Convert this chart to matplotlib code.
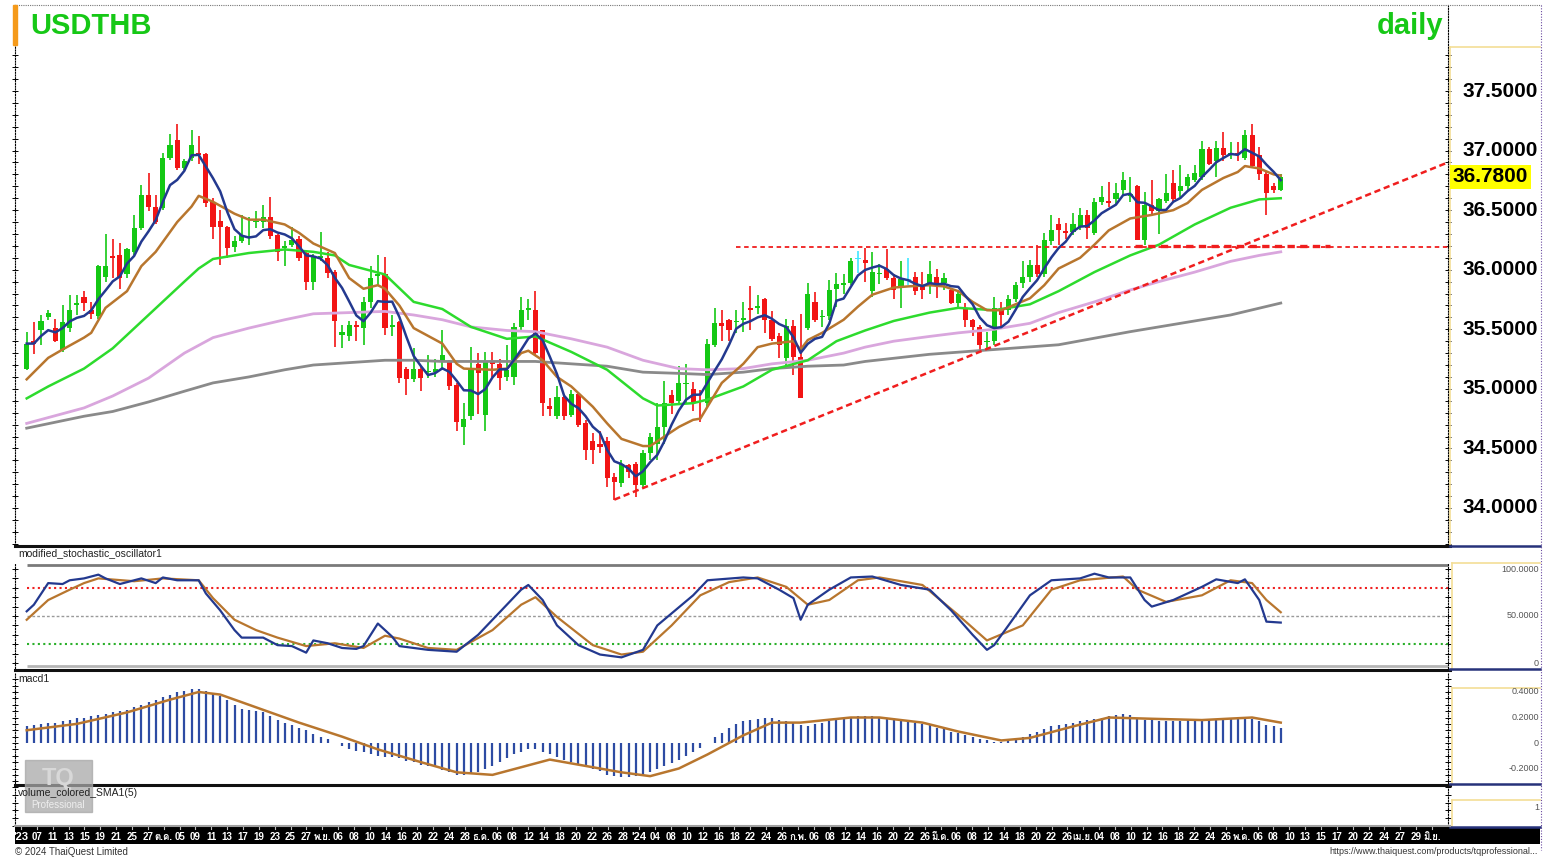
import numpy as np
import pandas as pd
import matplotlib
matplotlib.use('Agg')
import matplotlib.pyplot as plt
from matplotlib import font_manager
from matplotlib.ft2font import FT2Font
from matplotlib.lines import Line2D
from matplotlib.patches import Rectangle

# ---- daily candles (Sep 2023 - May 2024) ----
open_ = [35.17, 35.40, 35.49, 35.60, 35.51, 35.33, 35.51, 35.70, 35.77, 35.66,
         35.61, 35.94, 36.11, 36.12, 35.96, 36.15, 36.35, 36.63, 36.53, 36.52,
         36.94, 37.09, 36.85, 36.94, 36.98, 36.97, 36.57, 36.41, 36.36, 36.19,
         36.24, 36.27, 36.40, 36.40, 36.44, 36.29, 36.18, 36.21, 36.26, 36.14,
         35.90, 36.10, 36.10, 35.98, 35.45, 35.44, 35.54, 35.51, 35.73, 35.95,
         35.96, 35.52, 35.56, 35.17, 35.08, 35.17, 35.14, 35.14, 35.23, 35.23,
         35.03, 34.68, 34.77, 35.21, 34.78, 35.23, 35.21, 35.10, 35.10, 35.52,
         35.66, 35.66, 35.49, 34.86, 34.77, 34.93, 34.78, 34.96, 34.71, 34.56,
         34.54, 34.56, 34.26, 34.21, 34.36, 34.37, 34.19, 34.46, 34.54, 34.68,
         34.95, 34.90, 35.04, 35.00, 34.90, 34.88, 35.37, 35.55, 35.58, 35.56,
         35.58, 35.68, 35.68, 35.75, 35.58, 35.44, 35.26, 35.53, 35.27, 35.51,
         35.73, 35.60, 35.61, 35.84, 35.87, 35.89, 36.09, 36.08, 35.82, 35.96,
         36.01, 35.93, 35.86, 35.91, 35.94, 35.87, 35.86, 35.94, 35.89, 35.83,
         35.72, 35.68, 35.58, 35.52, 35.39, 35.40, 35.68, 35.66, 35.75, 35.89,
         35.94, 36.04, 35.96, 36.24, 36.38, 36.32, 36.32, 36.36, 36.46, 36.31,
         36.57, 36.58, 36.59, 36.67, 36.62, 36.70, 36.25, 36.54, 36.49, 36.58,
         36.73, 36.66, 36.70, 36.75, 36.78, 37.01, 36.91, 37.02, 36.97, 36.98,
         36.94, 37.13, 36.96, 36.80, 36.70, 36.67]
high_ = [35.48, 35.56, 35.62, 35.66, 35.59, 35.70, 35.79, 35.79, 35.82, 35.73,
         36.04, 36.30, 36.26, 36.22, 36.18, 36.46, 36.71, 36.81, 36.63, 36.98,
         37.14, 37.22, 36.93, 37.17, 37.12, 36.98, 36.60, 36.50, 36.37, 36.28,
         36.46, 36.44, 36.49, 36.54, 36.61, 36.30, 36.24, 36.36, 36.28, 36.15,
         36.13, 36.32, 36.15, 36.00, 35.54, 35.57, 35.57, 35.77, 36.03, 36.12,
         36.11, 35.62, 35.57, 35.18, 35.34, 35.18, 35.28, 35.25, 35.49, 35.24,
         35.05, 34.88, 35.35, 35.30, 35.31, 35.31, 35.25, 35.37, 35.55, 35.77,
         35.75, 35.82, 35.49, 34.92, 35.02, 34.96, 34.99, 34.97, 34.74, 34.63,
         34.65, 34.60, 34.29, 34.40, 34.37, 34.39, 34.49, 34.63, 34.88, 35.07,
         34.99, 35.19, 35.21, 35.06, 34.99, 35.42, 35.68, 35.66, 35.59, 35.66,
         35.73, 35.86, 35.79, 35.76, 35.65, 35.47, 35.59, 35.58, 35.63, 35.89,
         35.81, 35.66, 35.91, 35.97, 35.96, 36.10, 36.16, 36.18, 36.15, 36.05,
         36.17, 35.96, 36.07, 36.10, 35.98, 35.98, 36.07, 36.01, 35.97, 35.85,
         35.83, 35.72, 35.59, 35.54, 35.48, 35.77, 35.73, 35.79, 35.90, 36.07,
         36.08, 36.21, 36.31, 36.46, 36.43, 36.39, 36.48, 36.52, 36.50, 36.60,
         36.70, 36.74, 36.73, 36.82, 36.78, 36.71, 36.65, 36.75, 36.60, 36.80,
         36.84, 36.88, 36.80, 36.88, 37.08, 37.03, 37.08, 37.16, 37.07, 37.07,
         37.17, 37.22, 37.03, 36.82, 36.73, 36.80]
low_ = [35.16, 35.29, 35.37, 35.58, 35.39, 35.31, 35.48, 35.62, 35.65, 35.59,
        35.59, 35.90, 35.93, 35.84, 35.93, 36.12, 36.33, 36.49, 36.38, 36.50,
        36.92, 36.84, 36.84, 36.91, 36.89, 36.53, 36.26, 36.04, 36.10, 36.15,
        36.22, 36.21, 36.35, 36.35, 36.26, 36.07, 36.03, 36.19, 36.07, 35.83,
        35.83, 36.07, 35.93, 35.35, 35.34, 35.40, 35.40, 35.37, 35.68, 35.87,
        35.45, 35.44, 35.05, 34.95, 35.06, 34.98, 35.09, 35.10, 35.16, 34.99,
        34.65, 34.53, 34.74, 34.79, 34.65, 35.10, 34.99, 35.07, 35.03, 35.49,
        35.58, 35.28, 34.77, 34.77, 34.75, 34.74, 34.76, 34.68, 34.40, 34.37,
        34.46, 34.18, 34.07, 34.18, 34.25, 34.09, 34.18, 34.40, 34.40, 34.54,
        34.79, 34.88, 34.88, 34.81, 34.72, 34.85, 35.35, 35.40, 35.40, 35.47,
        35.48, 35.49, 35.63, 35.47, 35.40, 35.26, 35.19, 35.12, 34.92, 35.49,
        35.56, 35.52, 35.58, 35.69, 35.80, 35.87, 35.97, 35.90, 35.77, 35.88,
        35.91, 35.75, 35.68, 35.87, 35.79, 35.75, 35.80, 35.76, 35.83, 35.71,
        35.69, 35.52, 35.44, 35.31, 35.33, 35.37, 35.52, 35.62, 35.73, 35.85,
        35.90, 35.94, 35.94, 36.21, 36.21, 36.26, 36.29, 36.33, 36.26, 36.29,
        36.54, 36.53, 36.54, 36.63, 36.57, 36.25, 36.21, 36.47, 36.30, 36.56,
        36.56, 36.61, 36.67, 36.74, 36.75, 36.88, 36.78, 36.91, 36.93, 36.91,
        36.92, 36.85, 36.75, 36.46, 36.64, 36.66]
close_ = [35.38, 35.38, 35.57, 35.64, 35.40, 35.56, 35.66, 35.72, 35.72, 35.63,
          36.03, 36.03, 36.10, 35.93, 36.17, 36.35, 36.63, 36.53, 36.40, 36.94,
          37.05, 36.85, 36.91, 37.05, 36.96, 36.56, 36.36, 36.36, 36.18, 36.24,
          36.29, 36.28, 36.41, 36.44, 36.28, 36.15, 36.20, 36.25, 36.10, 35.90,
          36.11, 36.11, 35.97, 35.57, 35.48, 35.54, 35.52, 35.73, 35.93, 35.96,
          35.51, 35.53, 35.09, 35.08, 35.17, 35.09, 35.15, 35.17, 35.28, 35.02,
          34.72, 34.75, 35.16, 35.13, 35.23, 35.21, 35.09, 35.16, 35.52, 35.66,
          35.68, 35.30, 34.88, 34.83, 34.93, 34.77, 34.96, 34.70, 34.49, 34.49,
          34.51, 34.25, 34.22, 34.37, 34.30, 34.19, 34.46, 34.60, 34.68, 34.88,
          34.88, 35.05, 35.05, 34.89, 34.89, 35.38, 35.55, 35.53, 35.49, 35.57,
          35.59, 35.66, 35.69, 35.58, 35.42, 35.37, 35.53, 35.27, 34.92, 35.80,
          35.58, 35.61, 35.83, 35.88, 35.89, 36.07, 36.09, 36.06, 35.98, 35.97,
          35.93, 35.83, 35.92, 35.91, 35.82, 35.83, 35.96, 35.87, 35.93, 35.72,
          35.80, 35.58, 35.52, 35.37, 35.40, 35.68, 35.62, 35.75, 35.87, 35.94,
          36.04, 35.96, 36.25, 36.33, 36.33, 36.31, 36.38, 36.46, 36.35, 36.57,
          36.61, 36.56, 36.64, 36.75, 36.63, 36.25, 36.54, 36.49, 36.59, 36.64,
          36.59, 36.70, 36.78, 36.81, 37.01, 36.89, 37.02, 36.96, 36.98, 36.97,
          37.13, 36.87, 36.80, 36.64, 36.67, 36.78]

# ---- moving averages (candle index, value) ----
ma_brown_idx = [0, 3, 5, 8, 9, 11, 14, 16, 18, 21, 23, 24, 26, 29, 31, 33, 36, 38, 40, 43, 45,
                47, 49, 50, 52, 54, 58, 60, 61, 65, 67, 69, 70, 72, 74, 76, 79, 81, 83, 86, 87,
                89, 91, 93, 94, 95, 97, 100, 102, 104, 107, 108, 109, 111, 114, 116, 118, 121,
                123, 126, 128, 130, 132, 134, 136, 138, 140, 142, 144, 147, 149, 151, 154, 157,
                160, 162, 164, 167, 169, 170, 172, 174, 175]
ma_brown = [35.08, 35.26, 35.33, 35.43, 35.47, 35.68, 35.82, 36.03, 36.15, 36.40, 36.53, 36.62,
            36.57, 36.47, 36.42, 36.42, 36.38, 36.31, 36.22, 36.14, 35.93, 35.84, 35.87, 35.84,
            35.70, 35.51, 35.38, 35.21, 35.17, 35.16, 35.17, 35.30, 35.32, 35.24, 35.10, 35.02,
            34.85, 34.71, 34.58, 34.52, 34.52, 34.60, 34.68, 34.74, 34.75, 34.85, 35.05, 35.21,
            35.35, 35.38, 35.40, 35.33, 35.41, 35.47, 35.58, 35.69, 35.79, 35.85, 35.86, 35.87,
            35.86, 35.82, 35.73, 35.66, 35.66, 35.71, 35.76, 35.87, 36.01, 36.10, 36.21, 36.33,
            36.43, 36.46, 36.50, 36.56, 36.67, 36.77, 36.82, 36.87, 36.85, 36.80, 36.79]
ma_green_idx = [0, 3, 8, 12, 17, 22, 24, 26, 31, 36, 40, 43, 45, 50, 54, 58, 62, 67, 71, 76,
                81, 86, 88, 93, 95, 100, 104, 109, 113, 117, 121, 126, 130, 135, 140, 144, 149,
                154, 158, 163, 168, 172, 175]
ma_green = [34.92, 35.02, 35.17, 35.34, 35.62, 35.90, 36.01, 36.09, 36.14, 36.17, 36.15, 36.12,
            36.04, 35.96, 35.73, 35.67, 35.52, 35.42, 35.44, 35.31, 35.16, 34.92, 34.86, 34.88,
            34.91, 35.02, 35.16, 35.24, 35.40, 35.49, 35.57, 35.64, 35.68, 35.66, 35.71, 35.82,
            35.98, 36.12, 36.21, 36.38, 36.52, 36.59, 36.60]
ma_pink_idx = [0, 8, 12, 17, 22, 26, 31, 36, 40, 45, 50, 54, 58, 62, 67, 71, 76, 81, 86, 91,
               95, 100, 104, 109, 114, 117, 121, 126, 130, 135, 140, 144, 149, 154, 158, 163,
               168, 172, 175]
ma_pink = [34.71, 34.84, 34.94, 35.09, 35.30, 35.43, 35.51, 35.58, 35.63, 35.64, 35.65, 35.62,
           35.58, 35.52, 35.49, 35.48, 35.42, 35.35, 35.24, 35.17, 35.16, 35.17, 35.21, 35.24,
           35.30, 35.35, 35.40, 35.44, 35.47, 35.50, 35.55, 35.64, 35.73, 35.83, 35.90, 35.98,
           36.07, 36.12, 36.15]
ma_gray_idx = [0, 8, 12, 17, 22, 26, 31, 36, 40, 45, 50, 54, 58, 71, 76, 81, 86, 91, 95, 100,
               104, 109, 114, 117, 126, 135, 144, 154, 163, 168, 175]
ma_gray = [34.67, 34.77, 34.81, 34.89, 34.98, 35.05, 35.10, 35.16, 35.20, 35.22, 35.24, 35.24,
           35.23, 35.23, 35.21, 35.19, 35.14, 35.13, 35.12, 35.14, 35.17, 35.19, 35.20, 35.23,
           35.29, 35.33, 35.37, 35.48, 35.57, 35.62, 35.72]

# trend / resistance lines
trend_idx = [82, 198.3]
trend_val = [34.07, 36.90]
resist_idx = [99, 198.3]
resist_val = 36.19
last_price = 36.78
price_ticks = [34.0, 34.5, 35.0, 35.5, 36.0, 36.5, 37.0, 37.5]

# ---- modified stochastic (%K blue, %D brown) ----
stk_idx = [0, 1, 3, 5, 6, 8, 10, 11, 13, 15, 16, 18, 19, 21, 24, 25, 27, 29, 30, 33, 35, 37,
           39, 40, 42, 44, 46, 47, 49, 51, 52, 56, 60, 63, 66, 69, 70, 72, 74, 77, 80, 83, 86,
           88, 93, 95, 100, 102, 105, 107, 108, 109, 112, 115, 118, 122, 126, 129, 132, 134,
           135, 137, 140, 143, 147, 149, 151, 154, 156, 157, 160, 164, 166, 169, 170, 172,
           173, 175]
stk_k = [55, 62, 85, 84, 88, 90, 94, 90, 84, 88, 90, 85, 91, 88, 88, 74, 56, 35, 27, 27, 19, 18,
         11, 24, 21, 16, 15, 18, 42, 28, 18, 14, 12, 30, 54, 78, 83, 67, 40, 19, 9, 6, 14,
         40, 72, 88, 91, 90, 78, 69, 46, 62, 78, 91, 92, 83, 78, 56, 30, 14,
         19, 40, 72, 88, 90, 95, 91, 91, 67, 60, 67, 81, 89, 85, 89, 67,
         44, 43]
std_idx = [0, 3, 6, 8, 10, 15, 19, 24, 26, 29, 32, 35, 39, 43, 47, 50, 52, 56, 60, 65, 69, 71,
           74, 79, 83, 86, 90, 94, 98, 102, 106, 109, 112, 116, 119, 125, 130, 134, 139, 143,
           147, 153, 155, 159, 164, 168, 171, 173, 175]
std_d = [46, 67, 78, 85, 90, 87, 90, 88, 69, 46, 35, 27, 18, 21, 16, 29, 26, 16, 14, 35, 62, 70,
         49, 19, 9, 12, 40, 72, 86, 91, 81, 62, 67, 88, 91, 83, 51, 24, 40, 78,
         88, 92, 78, 65, 72, 88, 85, 67, 54]

# ---- macd (bars per candle) and signal line ----
macd = [0.13, 0.14, 0.15, 0.16, 0.16, 0.17, 0.18, 0.20, 0.20, 0.21,
        0.22, 0.23, 0.24, 0.25, 0.26, 0.28, 0.30, 0.32, 0.34, 0.36,
        0.38, 0.40, 0.41, 0.42, 0.42, 0.41, 0.39, 0.37, 0.34, 0.30,
        0.27, 0.26, 0.25, 0.24, 0.21, 0.18, 0.16, 0.14, 0.12, 0.10,
        0.07, 0.05, 0.03, 0.00, -0.02, -0.05, -0.06, -0.07, -0.09, -0.10,
        -0.11, -0.11, -0.12, -0.14, -0.15, -0.17, -0.18, -0.19, -0.21, -0.23,
        -0.25, -0.25, -0.24, -0.23, -0.20, -0.18, -0.15, -0.12, -0.09, -0.07,
        -0.05, -0.05, -0.07, -0.09, -0.11, -0.13, -0.15, -0.17, -0.18, -0.20,
        -0.22, -0.25, -0.26, -0.27, -0.27, -0.26, -0.25, -0.23, -0.20, -0.18,
        -0.16, -0.13, -0.10, -0.07, -0.04, 0.00, 0.05, 0.08, 0.12, 0.15,
        0.17, 0.18, 0.19, 0.20, 0.20, 0.18, 0.17, 0.16, 0.14, 0.13,
        0.15, 0.16, 0.17, 0.18, 0.19, 0.20, 0.21, 0.21, 0.21, 0.20,
        0.20, 0.19, 0.18, 0.17, 0.16, 0.15, 0.14, 0.12, 0.11, 0.09,
        0.08, 0.06, 0.05, 0.03, 0.02, 0.01, 0.01, 0.02, 0.03, 0.05,
        0.07, 0.09, 0.11, 0.13, 0.14, 0.15, 0.16, 0.17, 0.18, 0.19,
        0.20, 0.21, 0.22, 0.23, 0.22, 0.20, 0.18, 0.18, 0.17, 0.17,
        0.17, 0.17, 0.18, 0.18, 0.18, 0.19, 0.19, 0.20, 0.20, 0.20,
        0.19, 0.19, 0.17, 0.14, 0.13, 0.12]
sig_idx = [0, 7, 14, 20, 24, 27, 33, 38, 44, 49, 55, 60, 65, 69, 73, 77, 83, 87, 91, 95, 100,
           104, 108, 115, 119, 125, 130, 136, 140, 146, 151, 157, 164, 171, 175]
sig = [0.10, 0.15, 0.24, 0.34, 0.40, 0.38, 0.26, 0.16, 0.05, -0.05, -0.15, -0.23, -0.25, -0.19,
       -0.13, -0.17, -0.23, -0.26, -0.20, -0.09, 0.06, 0.16, 0.16, 0.20, 0.20, 0.16, 0.09, 0.02,
       0.04, 0.13, 0.20, 0.19, 0.18, 0.20, 0.16]

# ---- date strip labels ----
date_labels = ["'23", "07", "11", "13", "15", "19", "21", "25", "27",
               "ต.ค.", "05", "09", "11", "13", "17", "19", "23", "25", "27",
               "พ.ย.", "06", "08", "10", "14", "16", "20", "22", "24", "28",
               "ธ.ค.", "06", "08", "12", "14", "18", "20", "22", "26", "28",
               "'24", "04", "08", "10", "12", "16", "18", "22", "24", "26",
               "ก.พ.", "06", "08", "12", "14", "16", "20", "22", "26",
               "มี.ค.", "06", "08", "12", "14", "18", "20", "22", "26",
               "เม.ย.", "04", "08", "10", "12", "16", "18", "22", "24", "26",
               "พ.ค.", "06", "08", "10", "13", "15", "17", "20", "22", "24", "27", "29",
               "มิ.ย."]

# ---- fonts ----
names = {f.name for f in font_manager.fontManager.ttflist}
thai = None
for f in font_manager.fontManager.ttflist:
    try:
        if 0x0E01 in FT2Font(f.fname).get_charmap():
            thai = f.name
            break
    except Exception:
        pass
narrow = 'Liberation Sans Narrow' if 'Liberation Sans Narrow' in names else 'Liberation Sans'
plt.rcParams['font.family'] = ['Liberation Sans', 'DejaVu Sans']
date_family = [narrow] + ([thai] if thai else []) + ['DejaVu Sans']

# ---- layout (pixel based) ----
W, H = 1552, 858
X0, DX = 26.7, 7.166       # first candle pixel, candle spacing
PY0, PK = 91, 119.14       # pixel of 37.50, pixels per baht


def rect(x0, y0, x1, y1):
    return [x0 / W, 1 - y1 / H, (x1 - x0) / W, (y1 - y0) / H]


def xi(xp):
    return (xp - X0) / DX


def price(yp):
    return 37.5 - (yp - PY0) / PK


def stoch_v(yp):
    return (663 - yp) / 0.94


def macd_v(yp):
    return (743 - yp) / 127.5


XL = (xi(15), xi(1448))
fig = plt.figure(figsize=(W / 100, H / 100), dpi=100)

C_UP, C_DN, C_DOJI = '#14C814', '#F21414', '#3FE6FF'
C_BLUE, C_BROWN = '#23398F', '#B8762E'
C_YEL = '#F4DE96'


def panel(r, ylim):
    a = fig.add_axes(r)
    a.set_xlim(*XL)
    a.set_ylim(*ylim)
    for s in ['top', 'bottom']:
        a.spines[s].set_visible(False)
    for s in ['left', 'right']:
        a.spines[s].set_linestyle((0, (1, 1.5)))
        a.spines[s].set_linewidth(0.8)
    a.set_xticks([])
    a.tick_params(axis='y', which='both', left=True, right=True, labelleft=False,
                  labelright=False, direction='inout', length=4, width=0.7)
    return a


def label_col(r, ylim):
    a = fig.add_axes(r)
    a.set_xlim(0, 1)
    a.set_ylim(*ylim)
    a.set_xticks([])
    a.set_yticks([])
    for s in ['right', 'bottom']:
        a.spines[s].set_visible(False)
    for s in ['left', 'top']:
        a.spines[s].set_color(C_YEL)
        a.spines[s].set_linewidth(1.2)
    a.patch.set_alpha(0)
    return a


# ---- main price panel ----
ax = panel(rect(15, 5, 1448, 545), (price(545), price(5)))
ax.set_yticks(np.arange(33.7, price(47), 0.1), minor=True)
ax.set_yticks(price_ticks)

o, h, l, c = map(np.array, (open_, high_, low_, close_))
idx = np.arange(len(c))
col = np.where(c > o, C_UP, np.where(c < o, C_DN, C_DOJI))
ax.vlines(idx, l, h, colors=col, lw=1.2, zorder=2)
ax.bar(idx, np.maximum(np.abs(c - o), 0.012), bottom=np.minimum(o, c), width=0.72,
       color=col, zorder=3)

ma5 = pd.Series(c).rolling(5, min_periods=1).mean()
ax.plot(ma_gray_idx, ma_gray, color='#8A8A8A', lw=2, zorder=4)
ax.plot(ma_pink_idx, ma_pink, color='#D9A6DD', lw=2, zorder=4)
ax.plot(ma_green_idx, ma_green, color='#2DDB2D', lw=1.8, zorder=4)
ax.plot(ma_brown_idx, ma_brown, color=C_BROWN, lw=1.8, zorder=5)
ax.plot(idx, ma5, color=C_BLUE, lw=1.8, zorder=6)

ax.plot(trend_idx, trend_val, color='#F01E1E', lw=1.8, ls=(0, (2.5, 1.5)), zorder=7)
ax.hlines(resist_val, resist_idx[0], resist_idx[1], color='#F01E1E', lw=1.3,
          ls=(0, (2.5, 2)), zorder=7)
ax.hlines(resist_val + 0.01, xi(1135), xi(1330), color='#F01E1E', lw=2.4,
          ls=(0, (2.2, 1.6)), zorder=7)

axp = label_col(rect(1450, 47, 1540, 545), (price(545), price(47)))
for v in price_ticks:
    axp.text(0.975, v, f'{v:.4f}', ha='right', va='center', fontsize=15, fontweight='bold')
axp.text(0.03, last_price, f'{last_price:.4f}', ha='left', va='center', fontsize=15,
         fontweight='bold', zorder=5,
         bbox=dict(boxstyle='square,pad=0.12', fc='#FFFF00', ec='none'))

fig.text(30 / W, 1 - 26 / H, 'USDTHB', color='#16C816', fontsize=21, fontweight='bold',
         va='center', ha='left')
fig.text(1443 / W, 1 - 26 / H, 'daily', color='#16C816', fontsize=21, fontweight='bold',
         va='center', ha='right')
fig.patches.append(Rectangle((13 / W, 1 - 45 / H), 4 / W, 40 / H, transform=fig.transFigure,
                             color='#F59A1A', zorder=5))

# ---- stochastic panel ----
ax_s = panel(rect(15, 564, 1448, 668), (stoch_v(668), stoch_v(564)))
ax_s.set_yticks(np.arange(0, 101, 10))
ax_s.hlines([stoch_v(565)], 0, XL[1], color='#7A7A7A', lw=2)
ax_s.hlines([stoch_v(666)], 0, XL[1], color='#B5B5B5', lw=2)
ax_s.hlines(80, 0, XL[1], color='#F02020', lw=1.5, ls=(0, (1, 1.6)))
ax_s.hlines(50, 0, XL[1], color='#9A9A9A', lw=1.0, ls=(0, (2, 1.5)))
ax_s.hlines(20, 0, XL[1], color='#2BB02B', lw=1.5, ls=(0, (1, 1.6)))
ax_s.plot(std_idx, std_d, color=C_BROWN, lw=1.6)
ax_s.plot(stk_idx, stk_k, color=C_BLUE, lw=1.6)
fig.text(18 / W, 1 - 553 / H, 'modified_stochastic_oscillator1', fontsize=7.5,
         va='center', ha='left', color='#222222', zorder=8)
axs_l = label_col(rect(1452, 563, 1540, 668), (stoch_v(668), stoch_v(563)))
for v, t in [(100, '100.0000'), (50, '50.0000'), (0, '0')]:
    axs_l.text(0.99, v, t, ha='right', va='center', fontsize=6.5, color='#555555')

# ---- macd panel ----
ax_m = panel(rect(15, 672, 1448, 783), (macd_v(783), macd_v(672)))
ax_m.set_yticks(np.arange(-0.3, 0.55, 0.05))
ax_m.vlines(idx, 0, macd, colors='#2D4BA3', lw=1.6)
ax_m.plot(sig_idx, sig, color=C_BROWN, lw=1.8)
fig.text(18 / W, 1 - 679 / H, 'macd1', fontsize=7.5, va='center', ha='left', color='#222222',
         zorder=8)
axm_l = label_col(rect(1452, 688, 1540, 783), (macd_v(783), macd_v(688)))
for v, t in [(0.4, '0.4000'), (0.2, '0.2000'), (0.0, '0'), (-0.2, '-0.2000')]:
    axm_l.text(0.99, v, t, ha='right', va='center', fontsize=6.5, color='#555555')

# ---- volume panel ----
ax_v = panel(rect(15, 787, 1448, 826), (0, 1))
ax_v.set_yticks(np.arange(0, 1.01, 0.2))
fig.text(18 / W, 1 - 793 / H, 'volume_colored_SMA1(5)', fontsize=7.5, va='center',
         ha='left', color='#222222', zorder=8)
axv_l = label_col(rect(1452, 800, 1540, 826), (0, 1))
axv_l.text(0.99, 0.72, '1', ha='right', va='center', fontsize=6.5, color='#555555')

# watermark logo
fig.patches.append(Rectangle((25 / W, 1 - 812 / H), 67 / W, 52 / H, transform=fig.transFigure,
                             color='#A8A8A8', alpha=0.75, zorder=6))
fig.text(58 / W, 1 - 778 / H, 'TQ', fontsize=17, fontweight='bold', color='#D8D8D8',
         ha='center', va='center', zorder=7)
fig.text(58 / W, 1 - 805 / H, 'Professional', fontsize=7, color='#EEEEEE', ha='center',
         va='center', zorder=7)

# ---- date strip ----
ax_d = fig.add_axes(rect(15, 827, 1540, 844))
ax_d.set_facecolor('black')
ax_d.set_xlim(15, 1540)
ax_d.set_ylim(0, 1)
ax_d.set_xticks([])
ax_d.set_yticks([])
for s in ax_d.spines.values():
    s.set_visible(False)
pos = np.linspace(21, 1432, len(date_labels))
for xp, t in zip(pos, date_labels):
    yr = t.startswith("'")
    ax_d.text(xp, 0.42, t, color='white', fontsize=8 if yr else 7, fontweight='bold',
              ha='center', va='center', family=date_family)
    ax_d.plot([xp, xp], [0.86, 1.0], color='#BBBBBB', lw=0.8)

# ---- separators and frame ----
def fline(x0, y0, x1, y1, **kw):
    fig.add_artist(Line2D([x0 / W, x1 / W], [1 - y0 / H, 1 - y1 / H], **kw))


for yp in [546, 670, 785]:
    fline(15, yp, 1450, yp, color='#111111', lw=2.2)
for yp in [546, 669, 784, 827]:
    fline(1450, yp, 1540, yp, color='#27327A', lw=1.8)
fline(15, 826, 1450, 826, color='#A0A0A0', lw=1.5)
fline(14, 5, 1541, 5, color='#777777', lw=0.8, ls=(0, (1, 1)))
fline(1541, 5, 1541, 850, color='#6A4AA0', lw=0.8, ls=(0, (1, 1.5)))

fig.text(15 / W, 1 - 852 / H, '© 2024 ThaiQuest Limited', fontsize=7, color='#333333',
         va='center', ha='left')
fig.text(1538 / W, 1 - 852 / H, 'https://www.thaiquest.com/products/tqprofessional...',
         fontsize=6.5, color='#333333', va='center', ha='right')

fig.savefig('out.png', dpi=100, facecolor='white')
